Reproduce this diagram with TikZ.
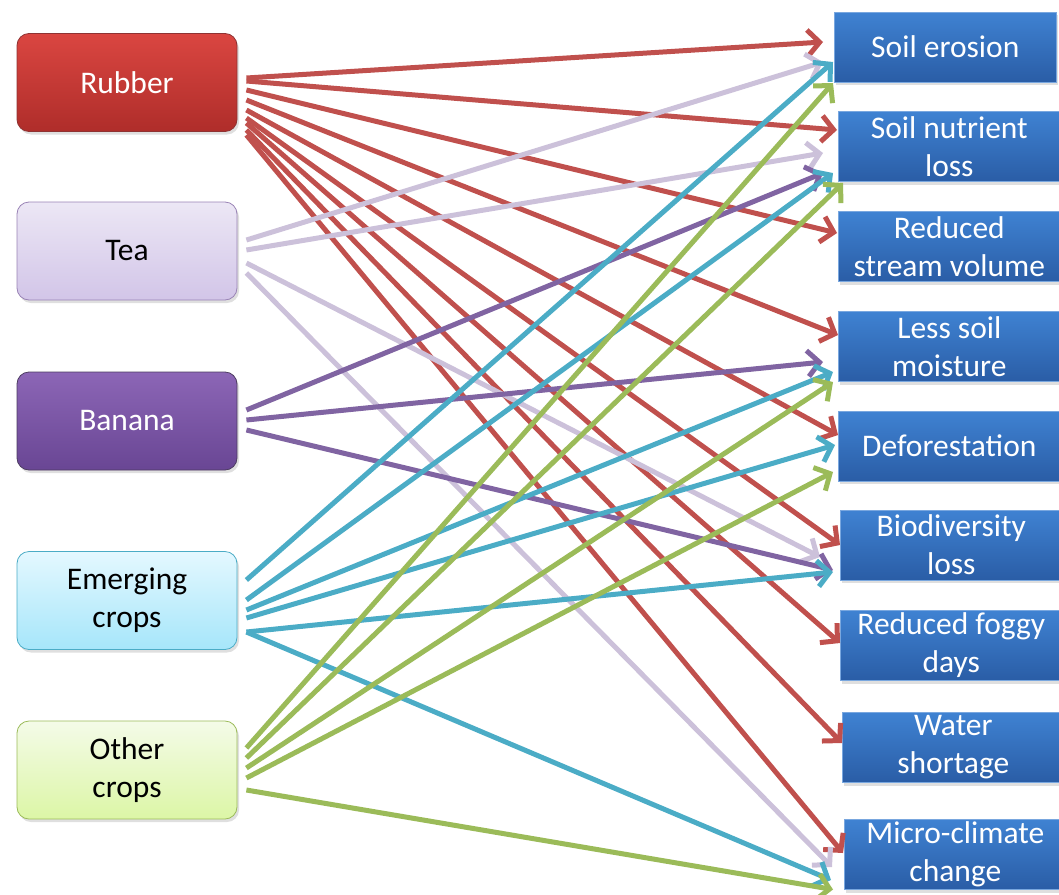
\documentclass[tikz,border=0pt]{standalone}
\usepackage{fontspec}
\setmainfont{Carlito}
\usetikzlibrary{arrows.meta,calc,shadows}
\definecolor{cred}{HTML}{C0504D}
\definecolor{clav}{HTML}{CCC1DA}
\definecolor{cpur}{HTML}{8064A2}
\definecolor{ccya}{HTML}{4BACC6}
\definecolor{cgrn}{HTML}{9BBB59}
\definecolor{bluetop}{HTML}{3F82D2}
\definecolor{bluebot}{HTML}{2A5DA6}
\newcommand\conn[5]{\draw[#1] ($(#2.east)+(9,#3)$) -- ($(#4.west)+(#5)$);}
\begin{document}
\begin{tikzpicture}[x=1pt,y=-1pt,
  every node/.style={font=\fontsize{31.5}{38}\selectfont, align=center, inner sep=0pt},
  cropbox/.style={rounded corners=12pt, minimum width=220pt, minimum height=98pt, line width=0.8pt,
    drop shadow={opacity=0.25, shadow xshift=2pt, shadow yshift=-3pt}},
  effbox/.style={anchor=west, minimum width=222pt, minimum height=70pt, draw=bluetop!70!white, line width=0.6pt,
    top color=bluetop, bottom color=bluebot, text=white,
    drop shadow={opacity=0.25, shadow xshift=2pt, shadow yshift=-3pt}},
  arr/.style={line width=5pt, -{Straight Barb[length=12pt,width=26pt]}},
]
\useasboundingbox (0,0) rectangle (1059,894);
% crop boxes
\node[cropbox, draw=red!45!black!80, text=white,
  top color={rgb,255:red,218;green,70;blue,65}, bottom color={rgb,255:red,175;green,45;blue,42}] (rubber) at (127,82.5) {Rubber};
\node[cropbox, draw=cpur!80, top color={rgb,255:red,236;green,231;blue,245}, bottom color={rgb,255:red,210;green,197;blue,232}] (tea) at (127,251) {Tea};
\node[cropbox, draw=cpur!60!black, top color={rgb,255:red,140;green,102;blue,182}, bottom color={rgb,255:red,105;green,70;blue,148}, text=white] (banana) at (127,421) {Banana};
\node[cropbox, draw=ccya, top color={rgb,255:red,228;green,248;blue,255}, bottom color={rgb,255:red,166;green,230;blue,250}] (emerging) at (127,600.5) {Emerging\\crops};
\node[cropbox, draw=cgrn, top color={rgb,255:red,244;green,251;blue,232}, bottom color={rgb,255:red,220;green,246;blue,166}] (other) at (127,770) {Other\\crops};
% effect boxes
\node[effbox] (erosion) at (834,47) {Soil erosion};
\node[effbox] (nutrient) at (838,146.5) {Soil nutrient\\loss};
\node[effbox] (stream) at (838,246.5) {Reduced\\stream volume};
\node[effbox] (moisture) at (838,346.5) {Less soil\\moisture};
\node[effbox] (defor) at (838,446) {Deforestation};
\node[effbox] (bio) at (840,545) {Biodiversity\\loss};
\node[effbox] (foggy) at (840,645.5) {Reduced foggy\\days};
\node[effbox] (water) at (842,747.5) {Water\\shortage};
\node[effbox] (micro) at (844,854.5) {Micro-climate\\change};
% rubber
\conn{arr,cred}{rubber}{-4.5}{erosion}{-11,-5}
\conn{arr,cred}{rubber}{-1.5}{nutrient}{-1,-16.5}
\conn{arr,cred}{rubber}{7.5}{stream}{-1,-13.5}
\conn{arr,cred}{rubber}{17.5}{moisture}{0,-11.5}
\conn{arr,cred}{rubber}{27.5}{defor}{0,-11}
\conn{arr,cred}{rubber}{35.5}{bio}{0,0}
\conn{arr,cred}{rubber}{40.5}{foggy}{0,-2.5}
\conn{arr,cred}{rubber}{47.5}{water}{0,-4.5}
\conn{arr,cred}{rubber}{52.5}{micro}{-1,-1.5}
% tea
\conn{arr,clav}{tea}{-11}{erosion}{-11,15}
\conn{arr,clav}{tea}{-1}{nutrient}{-15,6.5}
\conn{arr,clav}{tea}{12}{bio}{-20,12}
\conn{arr,clav}{tea}{22}{micro}{-12,12.5}
% banana
\conn{arr,cpur}{banana}{-11}{nutrient}{-15,26.5}
\conn{arr,cpur}{banana}{-1}{moisture}{-15,15.5}
\conn{arr,cpur}{banana}{9}{bio}{-7,25}
% emerging
\conn{arr,ccya}{emerging}{-20.5}{erosion}{-1,15}
\conn{arr,ccya}{emerging}{-0.5}{nutrient}{-5,26.5}
\conn{arr,ccya}{emerging}{9.5}{moisture}{-5,25.5}
\conn{arr,ccya}{emerging}{17.5}{defor}{-3,-1}
\conn{arr,ccya}{emerging}{31.5}{bio}{-7,27}
\conn{arr,ccya}{emerging}{31.5}{micro}{-13,25.5}
% other
\conn{arr,cgrn}{other}{-22}{erosion}{-1,36}
\conn{arr,cgrn}{other}{-12}{nutrient}{5,36.5}
\conn{arr,cgrn}{other}{-2}{moisture}{-5,35.5}
\conn{arr,cgrn}{other}{8}{defor}{-5,26}
\conn{arr,cgrn}{other}{20}{micro}{-11,35}
\end{tikzpicture}
\end{document}
